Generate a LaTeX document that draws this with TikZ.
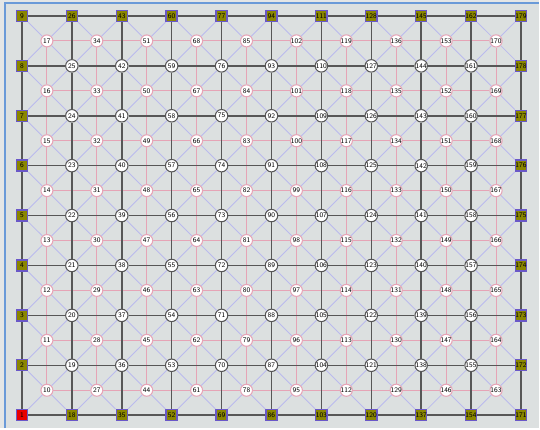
\documentclass[tikz,border=0pt]{standalone}
\usepackage{xcolor}
\definecolor{meshouter}{HTML}{E4E6E6}
\definecolor{meshback}{HTML}{DCE0E0}
\definecolor{meshframe}{HTML}{6A9AD8}
\definecolor{meshgrid}{HTML}{575757}
\definecolor{meshpink}{HTML}{E6A4B6}
\definecolor{meshdiag}{HTML}{BABAEE}
\definecolor{mesholive}{HTML}{8A8600}
\definecolor{meshpurple}{HTML}{6A58C8}
\definecolor{meshred}{HTML}{E80000}
\newcommand{\tinynum}{\fontsize{4}{4}\selectfont\sffamily}

\begin{document}
\begin{tikzpicture}[
  x=1cm,
  y=1cm,
  every node/.style={font=\tinynum, inner sep=0pt},
  inner/.style={circle, draw=meshgrid, fill=white, line width=0.6pt, minimum size=0.25cm},
  rim/.style={rectangle, draw=meshpurple, fill=mesholive, line width=0.8pt, minimum size=0.22cm},
  rimred/.style={rim, fill=meshred},
  centre/.style={circle, draw=meshpink, fill=white, line width=0.6pt, minimum size=0.24cm},
  gridline/.style={meshgrid, line width=0.85pt},
  dualline/.style={meshpink, line width=0.6pt},
  diagline/.style={meshdiag, line width=0.5pt}
]
  % ---- background and frame ---------------------------------------------
  \fill[meshouter] (0,0) rectangle (10.8,8.58);
  \fill[meshback] (0.1,0) rectangle (10.8,8.52);
  \draw[meshframe, line width=1.2pt] (0.1,0) -- (0.1,8.52) -- (10.8,8.52);

  % ---- mesh vertices: 1 + 17 i + j -----------------------------------------
  \foreach \i in {0,...,10}
    \foreach \j in {0,...,8} {
      \pgfmathtruncatemacro{\k}{1+17*\i+\j}
      \pgfmathtruncatemacro{\onrim}{(\i==0)||(\i==10)||(\j==0)||(\j==8)}
      \ifnum\k=1 \def\kind{rimred}\else
        \ifnum\onrim=1 \def\kind{rim}\else\def\kind{inner}\fi\fi
      \node[\kind] (n\k) at (0.44+\i,0.26+\j) {\k};
    }

  % ---- cell centres: 10 + 17 i + j ---------------------------------------
  \foreach \i in {0,...,9}
    \foreach \j in {0,...,7} {
      \pgfmathtruncatemacro{\k}{10+17*\i+\j}
      \node[centre] (n\k) at (0.94+\i,0.76+\j) {\k};
    }

  % ---- centre to corner diagonals ----------------------------------------
  \foreach \i in {0,...,9}
    \foreach \j in {0,...,7} {
      \pgfmathtruncatemacro{\ka}{10+17*\i+\j}
      \pgfmathtruncatemacro{\kb}{1+17*\i+\j}
      \pgfmathtruncatemacro{\kc}{2+17*\i+\j}
      \pgfmathtruncatemacro{\kd}{18+17*\i+\j}
      \pgfmathtruncatemacro{\ke}{19+17*\i+\j}
      \draw[diagline] (n\ka) -- (n\kb) (n\ka) -- (n\kc)
        (n\ka) -- (n\kd) (n\ka) -- (n\ke);
    }

  % ---- dual grid between centres -----------------------------------------
  \foreach \i in {0,...,8}
    \foreach \j in {0,...,7} {
      \pgfmathtruncatemacro{\ka}{10+17*\i+\j}
      \pgfmathtruncatemacro{\kb}{27+17*\i+\j}
      \draw[dualline] (n\ka) -- (n\kb);
    }
  \foreach \i in {0,...,9}
    \foreach \j in {0,...,6} {
      \pgfmathtruncatemacro{\ka}{10+17*\i+\j}
      \pgfmathtruncatemacro{\kb}{11+17*\i+\j}
      \draw[dualline] (n\ka) -- (n\kb);
    }

  % ---- main grid ---------------------------------------------------------
  \foreach \i in {0,...,9}
    \foreach \j in {0,...,8} {
      \pgfmathtruncatemacro{\ka}{1+17*\i+\j}
      \pgfmathtruncatemacro{\kb}{18+17*\i+\j}
      \draw[gridline] (n\ka) -- (n\kb);
    }
  \foreach \i in {0,...,10}
    \foreach \j in {0,...,7} {
      \pgfmathtruncatemacro{\ka}{1+17*\i+\j}
      \pgfmathtruncatemacro{\kb}{2+17*\i+\j}
      \draw[gridline] (n\ka) -- (n\kb);
    }
\end{tikzpicture}
\end{document}
